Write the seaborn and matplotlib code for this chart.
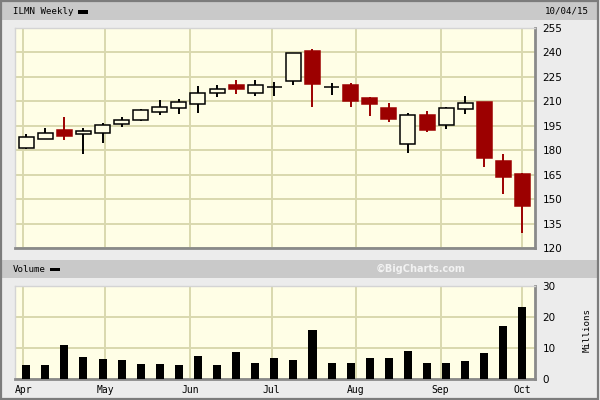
import numpy as np
import pandas as pd
import matplotlib
matplotlib.use("Agg")
import matplotlib.pyplot as plt
from matplotlib.patches import Rectangle
import seaborn as sns

# weekly ILMN candles (Thursdays)
weeks = pd.date_range("2015-04-02", periods=27, freq="7D")
opens = [181.2, 186.9, 192.2, 189.8, 190.6, 196.3, 198.4, 203.7, 205.7, 208.2,
         215.3, 220.0, 215.3, 218.6, 222.5, 240.7, 218.6, 220.2, 211.9, 206.1,
         184.0, 201.8, 195.7, 205.1, 209.8, 173.2, 165.2]
highs = [189.8, 193.5, 200.2, 193.5, 196.5, 200.2, 205.5, 210.6, 211.2, 219.4,
         219.8, 222.9, 222.9, 221.9, 239.7, 241.9, 221.1, 221.1, 212.9, 209.2,
         203.0, 203.9, 206.7, 213.3, 209.8, 177.7, 165.8]
lows = [181.0, 186.9, 186.1, 177.9, 184.6, 194.1, 197.8, 201.8, 202.0, 203.0,
        212.5, 214.7, 213.1, 213.1, 219.8, 206.3, 213.7, 206.3, 201.2, 197.5,
        178.5, 191.0, 193.2, 202.0, 169.9, 152.9, 129.4]
closes = [187.9, 190.4, 188.9, 191.8, 195.7, 198.7, 204.7, 206.3, 209.8, 214.9,
          217.8, 217.6, 220.0, 219.0, 239.7, 220.4, 219.0, 210.2, 208.2, 199.2,
          201.4, 192.6, 206.1, 209.0, 175.2, 163.4, 145.8]
volume = [4.4, 4.4, 10.9, 7.1, 6.3, 6.0, 4.8, 4.8, 4.4, 7.5,
          4.4, 8.7, 5.1, 6.8, 6.0, 15.6, 5.2, 5.2, 6.8, 6.8,
          9.0, 5.2, 5.2, 5.7, 8.4, 17.0, 23.3]
price_ticks = [120, 135, 150, 165, 180, 195, 210, 225, 240, 255]
volume_ticks = [0, 10, 20, 30]
months = pd.date_range("2015-04-01", "2015-10-01", freq="MS")

BG = "#fffee6"
GRID = "#d9d8ae"
RED = "#9c0000"
FIG_BG = "#ececec"
BAND = "#c9c9c9"

origin = pd.Timestamp("2015-04-01")
day = np.array((weeks - origin).days, dtype=float)
month_pos = np.array((months - origin).days, dtype=float)
month_lab = [m.strftime("%b") for m in months]

sns.set_style("white")
plt.rcParams["font.family"] = ["DejaVu Sans"]

W, H = 600, 400
fig = plt.figure(figsize=(6, 4), dpi=100, facecolor=FIG_BG)


def fx(x):
    return x / W


def fy(y):
    return 1 - y / H


# header bands and border
fig.add_artist(Rectangle((fx(2), fy(19.5)), fx(595), 17.5 / H, transform=fig.transFigure,
                         facecolor=BAND, edgecolor="none", zorder=0))
fig.add_artist(Rectangle((fx(2), fy(278)), fx(595), 18.5 / H, transform=fig.transFigure,
                         facecolor=BAND, edgecolor="none", zorder=0))
fig.add_artist(Rectangle((0.002, 0.003), 0.994, 0.995, transform=fig.transFigure,
                         facecolor="none", edgecolor="#7c7c7c", lw=1.6, zorder=5))

mono = dict(family="DejaVu Sans Mono", fontsize=6.6, color="black")
fig.text(fx(13), fy(11), "ILMN Weekly", ha="left", va="center", **mono)
fig.add_artist(Rectangle((fx(78), fy(13.5)), 10 / W, 3.5 / H, transform=fig.transFigure,
                         facecolor="black", edgecolor="none"))
fig.text(fx(589), fy(11), "10/04/15", ha="right", va="center", **mono)
fig.text(fx(13), fy(269), "Volume", ha="left", va="center", **mono)
fig.add_artist(Rectangle((fx(50), fy(271)), 10 / W, 3.5 / H, transform=fig.transFigure,
                         facecolor="black", edgecolor="none"))
fig.text(fx(466), fy(269), "\u00a9BigCharts.com", ha="right", va="center",
         fontsize=7, fontweight="bold", color="#f2f2f2")
fig.text(fx(587), fy(330), "Millions", rotation=90, ha="center", va="center", **mono)

ax = fig.add_axes([fx(15), fy(248), 520 / W, 220 / H], facecolor=BG)
axv = fig.add_axes([fx(15), fy(379), 520 / W, 93.3 / H], facecolor=BG)

# candles
up = [c >= o for o, c in zip(opens, closes)]
wick_col = ["black" if u else RED for u in up]
ax.vlines(day, lows, highs, colors=wick_col, lw=1.4, zorder=3)
body_lo = np.minimum(opens, closes)
body_h = np.abs(np.array(closes) - np.array(opens))
for x, b, h, u in zip(day, body_lo, body_h, up):
    ax.bar(x, h, bottom=b, width=5.5, zorder=4,
           facecolor=BG if u else RED, edgecolor="black" if u else RED, lw=1.1)

# volume bars
vol_df = pd.DataFrame({"day": day, "volume": volume})
sns.barplot(data=vol_df, x="day", y="volume", native_scale=True, width=0.42,
            color="black", saturation=1, errorbar=None, linewidth=0, ax=axv, zorder=3)

for a in (ax, axv):
    a.set_xlim(-3.1, 187.6)
    a.set_xticks(month_pos)
    a.yaxis.tick_right()
    a.grid(True, color=GRID, lw=1.4, zorder=0)
    a.set_axisbelow(True)
    a.set_xlabel("")
    a.set_ylabel("")
    a.tick_params(length=0, labelsize=7.5, colors="black")
    for s in ("top", "left"):
        a.spines[s].set_color("#d4d4d4")
        a.spines[s].set_linewidth(1)
    for s in ("bottom", "right"):
        a.spines[s].set_color("#8a8a8a")
        a.spines[s].set_linewidth(2)

ax.set_ylim(120, 255)
ax.set_yticks(price_ticks)
ax.tick_params(axis="y", pad=5.5)
ax.set_xticklabels([])

axv.set_ylim(0, 30)
axv.set_yticks(volume_ticks)
axv.tick_params(axis="y", pad=5.5)
axv.set_xticklabels(month_lab, family="DejaVu Sans Mono", fontsize=7)
axv.tick_params(axis="x", pad=4)

fig.savefig("out.png", dpi=100, facecolor=FIG_BG)
